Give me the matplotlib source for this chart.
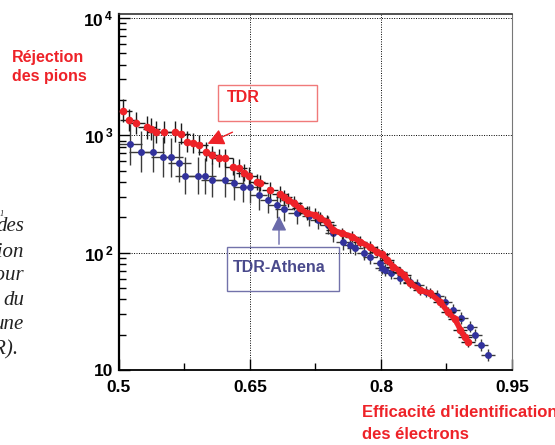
import matplotlib
matplotlib.use("Agg")
import matplotlib.pyplot as plt
import numpy as np
from matplotlib.patches import Rectangle, FancyArrowPatch

# Donnees (rejection des pions vs efficacite electrons)
red_x = [0.505, 0.511, 0.520, 0.532, 0.537, 0.542, 0.552, 0.564, 0.571, 0.578,
         0.585, 0.592, 0.600, 0.607, 0.615, 0.621, 0.631, 0.637, 0.643, 0.649,
         0.658, 0.662, 0.673, 0.684, 0.689, 0.694, 0.700, 0.707, 0.715, 0.724,
         0.730, 0.738, 0.745, 0.755, 0.767, 0.776, 0.787, 0.795, 0.801, 0.807,
         0.814, 0.822, 0.826, 0.833, 0.845, 0.856, 0.868, 0.877, 0.885, 0.891,
         0.896, 0.900]
red_y = [1620, 1350, 1270, 1170, 1130, 1075, 1075, 1075, 1030, 884,
         856, 828, 726, 681, 638, 638, 541, 524, 481, 451,
         403, 391, 342, 316, 297, 281, 264, 239, 217, 210,
         196, 184, 156, 146, 137, 124, 112, 102, 97, 87,
         76, 69, 64, 55, 48, 45, 38, 31, 27, 22,
         19, 17.4]
red_xerr = [0.010, 0.010, 0.010, 0.010, 0.010, 0.010, 0.010, 0.010, 0.010, 0.010,
            0.010, 0.010, 0.010, 0.010, 0.010, 0.010, 0.010, 0.010, 0.009, 0.009,
            0.009, 0.009, 0.009, 0.009, 0.009, 0.009, 0.009, 0.009, 0.009, 0.009,
            0.008, 0.008, 0.008, 0.008, 0.008, 0.008, 0.008, 0.008, 0.008, 0.008,
            0.008, 0.008, 0.008, 0.008, 0.008, 0.008, 0.008, 0.008, 0.008, 0.008,
            0.008, 0.008]
# erreur verticale relative (facteur en echelle log)
red_ferr = [0.26, 0.25, 0.25, 0.25, 0.24, 0.24, 0.24, 0.23, 0.23, 0.22,
            0.22, 0.21, 0.21, 0.20, 0.20, 0.20, 0.19, 0.19, 0.18, 0.18,
            0.17, 0.17, 0.16, 0.16, 0.15, 0.15, 0.15, 0.14, 0.14, 0.14,
            0.13, 0.13, 0.13, 0.12, 0.12, 0.12, 0.12, 0.11, 0.11, 0.11,
            0.11, 0.10, 0.10, 0.10, 0.10, 0.10, 0.10, 0.10, 0.10, 0.10,
            0.10, 0.10]

blue_x = [0.513, 0.525, 0.539, 0.550, 0.560, 0.569, 0.576, 0.590, 0.599, 0.606,
          0.621, 0.632, 0.642, 0.650, 0.660, 0.671, 0.681, 0.689, 0.704, 0.718,
          0.728, 0.739, 0.745, 0.757, 0.765, 0.770, 0.780, 0.787, 0.799, 0.801,
          0.805, 0.812, 0.822, 0.833, 0.841, 0.852, 0.864, 0.873, 0.883, 0.892,
          0.902, 0.908, 0.915, 0.923]
blue_y = [840, 726, 726, 650, 650, 585, 451, 451, 451, 417,
          417, 391, 365, 361, 310, 281, 255, 234, 219, 206,
          190, 172, 146, 124, 116, 109, 100, 91, 81, 74,
          71, 67, 60.5, 56.6, 53, 46.5, 42.7, 38.2, 32.5, 27.6,
          23.4, 19.9, 16.3, 13.4]
blue_xerr = [0.013, 0.013, 0.013, 0.013, 0.013, 0.013, 0.012, 0.012, 0.012, 0.012,
             0.012, 0.011, 0.011, 0.011, 0.010, 0.010, 0.010, 0.010, 0.010, 0.009,
             0.009, 0.009, 0.009, 0.009, 0.009, 0.009, 0.008, 0.008, 0.008, 0.008,
             0.008, 0.008, 0.008, 0.008, 0.008, 0.008, 0.008, 0.008, 0.008, 0.008,
             0.008, 0.008, 0.008, 0.008]
blue_ferr = [0.50, 0.50, 0.48, 0.48, 0.46, 0.46, 0.44, 0.44, 0.42, 0.40,
             0.40, 0.38, 0.36, 0.35, 0.33, 0.30, 0.28, 0.26, 0.24, 0.22,
             0.20, 0.20, 0.18, 0.17, 0.16, 0.15, 0.15, 0.14, 0.14, 0.13,
             0.13, 0.13, 0.12, 0.12, 0.12, 0.12, 0.12, 0.12, 0.12, 0.12,
             0.12, 0.12, 0.12, 0.12]

x_ticks = [0.5, 0.65, 0.8, 0.95]
x_ticklabels = ["0.5", "0.65", "0.8", "0.95"]
y_ticks = [10, 100, 1000, 10000]
y_ticklabels = ["10", r"$\mathregular{10^{\,2}}$", r"$\mathregular{10^{\,3}}$", r"$\mathregular{10^{\,4}}$"]

RED = "#ee2228"
BLUE = "#32329c"
FONT = "Liberation Sans"


def log_err(y, f):
    y = np.array(y, dtype=float)
    f = np.array(f)
    return [y - y / (1 + f), y * f]


fig = plt.figure(figsize=(5.55, 4.45), dpi=100)
ax = fig.add_axes([0.2144, 0.1685, 0.7081, 0.8])

ax.errorbar(blue_x, blue_y, xerr=blue_xerr, yerr=log_err(blue_y, blue_ferr),
            fmt="none", ecolor="#3a3a3a", elinewidth=1.0, capsize=0, zorder=2)
ax.plot(blue_x, blue_y, "o", color=BLUE, ms=5, mec="none", zorder=3)
ax.errorbar(red_x, red_y, xerr=red_xerr, yerr=log_err(red_y, red_ferr),
            fmt="none", ecolor="#1a1a1a", elinewidth=1.0, capsize=0, zorder=4)
# au-dela de 0.69 les points rouges forment un trait continu
ax.plot(red_x[25:], red_y[25:], "-", color=RED, lw=4, solid_capstyle="round", zorder=5)
ax.plot(red_x, red_y, "o", color=RED, ms=5.5, mec="none", zorder=5)

ax.set_yscale("log")
ax.set_xlim(0.5, 0.95)
ax.set_ylim(10, 10800)
ax.set_xticks(x_ticks)
ax.set_xticklabels(x_ticklabels)
ax.set_xticks([0.575, 0.725, 0.875], minor=True)
ax.set_yticks(y_ticks)
ax.set_yticklabels(y_ticklabels)

ax.grid(True, which="major", color="black", linestyle=(0, (1, 1.5)), linewidth=0.7)
ax.tick_params(which="both", direction="in", top=False, right=False)
ax.tick_params(which="major", length=8, width=1)
ax.tick_params(which="minor", length=5, width=1)
ax.tick_params(axis="x", which="major", pad=7)
ax.tick_params(axis="y", which="major", pad=4)
for lab in ax.get_xticklabels() + ax.get_yticklabels():
    lab.set_fontfamily(FONT)
    lab.set_fontweight("bold")
    lab.set_fontsize(12.5)

ax.spines["left"].set_linewidth(1.6)
ax.spines["bottom"].set_linewidth(1.3)
ax.spines["top"].set_linewidth(1.2)
ax.spines["top"].set_color("#333333")
ax.spines["right"].set_color("#777777")

# titres des axes
fig.text(0.0216, 0.8697, "Réjection", color=RED, fontsize=11.5, fontweight="bold",
         family=FONT, va="center", ha="left")
fig.text(0.0216, 0.827, "des pions", color=RED, fontsize=11.5, fontweight="bold",
         family=FONT, va="center", ha="left")
fig.text(0.652, 0.072, "Efficacité d'identification", color=RED, fontsize=12,
         fontweight="bold", family=FONT, va="center", ha="left")
fig.text(0.652, 0.0225, "des électrons", color=RED, fontsize=12,
         fontweight="bold", family=FONT, va="center", ha="left")

# etiquettes TDR
fig.add_artist(Rectangle((0.3928, 0.7281), 0.1784, 0.0809, transform=fig.transFigure,
                         fill=False, edgecolor="#f07a7a", linewidth=1.0))
fig.text(0.409, 0.7798, "TDR", color=RED, fontsize=11.5, fontweight="bold",
         family=FONT, va="center", ha="left")
fig.add_artist(FancyArrowPatch((0.4234, 0.7056), (0.3694, 0.6742), transform=fig.transFigure,
                               arrowstyle="-|>,head_length=10,head_width=5",
                               color=RED, linewidth=1.0))

fig.add_artist(Rectangle((0.409, 0.346), 0.2018, 0.0989, transform=fig.transFigure,
                         fill=False, edgecolor="#7272aa", linewidth=1.0))
fig.text(0.4198, 0.3978, "TDR-Athena", color="#4a4a8c", fontsize=11.5, fontweight="bold",
         family=FONT, va="center", ha="left")
fig.add_artist(FancyArrowPatch((0.5027, 0.4449), (0.5027, 0.5213), transform=fig.transFigure,
                               arrowstyle="-|>,head_length=9,head_width=4.5",
                               color="#6a6aaa", linewidth=1.0))

# texte du document coupe a gauche
left_lines = [("1", 0.0072, 0.5190, 6), ("des", 0.0432, 0.4899, 15), ("tion", 0.0432, 0.4337, 15),
              ("pour", 0.0432, 0.3798, 15), ("du", 0.0432, 0.3258, 15),
              ("une", 0.0432, 0.2697, 15), ("DR).", 0.0324, 0.2135, 15)]
for txt, xx, yy, fs in left_lines:
    fig.text(xx, yy, txt, family="Liberation Serif", style="italic", fontsize=fs,
             color="#222222", ha="right", va="center")

fig.savefig("out.png", dpi=100)
